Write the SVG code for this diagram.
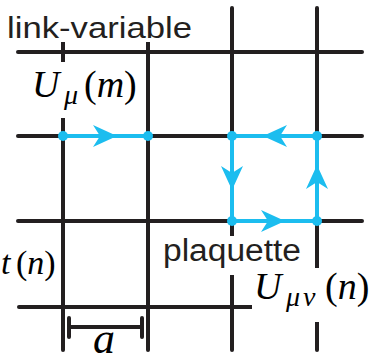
<svg xmlns="http://www.w3.org/2000/svg" xmlns:xlink="http://www.w3.org/1999/xlink" width="370" height="363" viewBox="0 0 370 363">
<style>
.grid{stroke:#231f20;stroke-width:4;stroke-linecap:round;fill:none}
.link{stroke:#1cbdef;stroke-width:4;fill:none}
.dot{fill:#1cbdef}
.ah{fill:#1cbdef}
.bg{fill:#ffffff}
.sans{font-family:"Liberation Sans",Arial,sans-serif;fill:#231f20}
.math{font-family:"Liberation Serif","Times New Roman",serif;fill:#000000}
.it{font-style:italic}
</style>
<defs>
<path id="ah" d="M0,0 L-24,-11 L-17,0 L-24,11 Z"/>
</defs>
<rect width="370" height="363" fill="#ffffff"/>
<g id="grid">
<line class="grid" x1="18" y1="52" x2="362" y2="52"/>
<line class="grid" x1="18" y1="136" x2="362" y2="136"/>
<line class="grid" x1="18" y1="221" x2="362" y2="221"/>
<line class="grid" x1="19" y1="307" x2="362" y2="307"/>
<line class="grid" x1="63" y1="8" x2="63" y2="350"/>
<line class="grid" x1="148" y1="8" x2="148" y2="350"/>
<line class="grid" x1="232" y1="8" x2="232" y2="350"/>
<line class="grid" x1="317" y1="8" x2="317" y2="350"/>
</g>
<g id="connectors">
<line class="link" x1="63" y1="136" x2="148" y2="136"/>
<use href="#ah" class="ah" transform="translate(117,136)"/>
<path class="link" d="M232,136 H317 V221 H232 Z"/>
<use href="#ah" class="ah" transform="translate(263,136) rotate(180)"/>
<use href="#ah" class="ah" transform="translate(232,190) rotate(90)"/>
<use href="#ah" class="ah" transform="translate(285,221)"/>
<use href="#ah" class="ah" transform="translate(317,165) rotate(-90)"/>
</g>
<g id="sites">
<circle class="dot" cx="63" cy="136" r="5"/>
<circle class="dot" cx="148" cy="136" r="5"/>
<circle class="dot" cx="232" cy="136" r="5"/>
<circle class="dot" cx="317" cy="136" r="5"/>
<circle class="dot" cx="232" cy="221" r="5"/>
<circle class="dot" cx="317" cy="221" r="5"/>
</g>
<g id="label-link-variable">
<rect class="bg" x="0" y="0" width="200" height="42"/>
<text class="sans" x="7" y="38" font-size="30" textLength="185" lengthAdjust="spacingAndGlyphs">link-variable</text>
</g>
<g id="label-Umu">
<rect class="bg" x="24" y="62" width="116" height="56"/>
<text class="math" x="32" y="97" font-size="38"><tspan class="it">U</tspan><tspan class="it" font-size="28" x="64" dy="7">μ</tspan><tspan dy="-7" x="84">(</tspan><tspan class="it">m</tspan><tspan>)</tspan></text>
</g>
<g id="label-plaquette">
<rect class="bg" x="156" y="236" width="154" height="39"/>
<text class="sans" x="163" y="261" font-size="31" textLength="138" lengthAdjust="spacingAndGlyphs">plaquette</text>
</g>
<g id="label-Umunu">
<rect class="bg" x="252" y="268" width="118" height="54"/>
<text class="math" x="254" y="299" font-size="38"><tspan class="it">U</tspan><tspan class="it" font-size="28" x="286" dy="7" letter-spacing="3">μν</tspan><tspan dy="-7" x="325">(</tspan><tspan class="it">n</tspan><tspan>)</tspan></text>
</g>
<g id="label-left">
<text class="math" x="1" y="274" font-size="34"><tspan class="it">t</tspan><tspan x="16">(</tspan><tspan class="it">n</tspan><tspan>)</tspan></text>
</g>
<g id="scale">
<line class="grid" x1="69" y1="327" x2="142" y2="327" stroke-width="3.5" stroke-linecap="butt"/>
<line class="grid" x1="69" y1="318" x2="69" y2="337" stroke-width="3.5" stroke-linecap="butt"/>
<line class="grid" x1="142" y1="318" x2="142" y2="337" stroke-width="3.5" stroke-linecap="butt"/>
<text class="math it" x="93" y="353" font-size="44">a</text>
</g>
</svg>
